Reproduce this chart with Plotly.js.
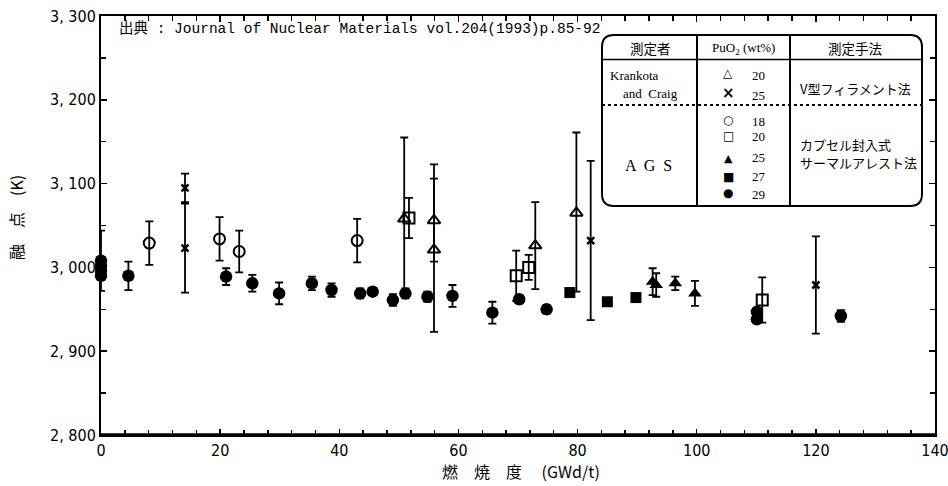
<!DOCTYPE html>
<html>
<head>
<meta charset="utf-8">
<script src="https://cdn.plot.ly/plotly-3.0.1.min.js"></script>
<style>html,body{margin:0;padding:0;background:#fff;}#chart{width:948px;height:486px;}</style>
</head>
<body>
<div id="chart"></div>
<script>
// ---- Data (burnup GWd/t, melting point K, error +, error -) ----
// Krankota and Craig, PuO2 20 wt% (open triangle)
const kc20_x = [50.9, 55.9, 55.9, 72.9, 79.8];
const kc20_y = [3058, 3056, 3021, 3026, 3065];
const kc20_ep = [97, 67, 85, 52, 96];
const kc20_em = [90, 49, 98, 52, 94];
// Krankota and Craig, PuO2 25 wt% (x)
const kc25_x = [14.1, 14.1, 82.2, 120.0];
const kc25_y = [3095, 3023, 3032, 2979];
const kc25_ep = [17, 53, 95, 58];
const kc25_em = [17, 53, 95, 58];
// AGS 18 wt% (open circle)
const a18_x = [8.1, 19.9, 23.2, 43.0];
const a18_y = [3029, 3034, 3019, 3032];
const a18_e = [26, 26, 25, 26];
// AGS 20 wt% (open square)
const a20_x = [51.7, 69.7, 71.8, 111.0];
const a20_y = [3059, 2990, 3000, 2961];
const a20_e = [24, 30, 15, 27];
// AGS 25 wt% (filled triangle)
const a25_x = [92.6, 93.2, 96.4, 99.7];
const a25_y = [2983, 2979, 2981, 2969];
const a25_e = [16, 14, 8, 15];
// AGS 27 wt% (filled square)
const a27_x = [78.7, 85.0, 89.8];
const a27_y = [2970, 2959, 2964];
const a27_e = [3, 3, 3];
// AGS 29 wt% (filled circle)
const a29_x = [0, 0, 0, 0, 4.6, 21.0, 25.4, 29.9, 35.4, 38.7, 43.5, 45.6, 49.0, 51.1, 54.8, 59.0, 65.7, 70.2, 74.8, 110.1, 110.1, 124.2];
const a29_y = [3008, 3002, 2996, 2990, 2990, 2989, 2981, 2969, 2981, 2973, 2969, 2971, 2961, 2969, 2965, 2966, 2946, 2962, 2950, 2947, 2938, 2942];
const a29_e = [36, 4, 4, 4, 17, 10, 10, 13, 8, 8, 6, 4, 7, 6, 6, 13, 13, 5, 5, 4, 4, 7];

// Axis ticks
const xTickVals = [0, 20, 40, 60, 80, 100, 120, 140];
const xTickText = ['0', '20', '40', '60', '80', '100', '120', '140'];
const yTickVals = [2800, 2900, 3000, 3100, 3200, 3300];
const yTickText = ['2, 800', '2, 900', '3, 000', '3, 100', '3, 200', '3, 300'];

// ---- Layout helpers (pixel -> paper) ----
const L = 101, R = 935, T = 16, B = 435;
const PX = x => (x - L) / (R - L);
const PY = y => (B - y) / (B - T);

function eb(ep, em) {
  return {type: 'data', symmetric: em === undefined, array: ep, arrayminus: em,
          color: '#000', thickness: 1.8, width: 4};
}
function tr(x, y, sym, size, ep, em, lw) {
  return {type: 'scatter', mode: 'markers', x: x, y: y, cliponaxis: false,
    error_y: eb(ep, em),
    marker: {symbol: sym, size: size, color: '#000', line: {color: '#000', width: lw}},
    showlegend: false, hoverinfo: 'x+y'};
}
const traces = [
  tr(kc20_x, kc20_y, 'triangle-up-open', 11, kc20_ep, kc20_em, 2),
  tr(kc25_x, kc25_y, 'x-thin-open', 7, kc25_ep, kc25_em, 2.5),
  tr(a18_x, a18_y, 'circle-open', 11, a18_e, undefined, 2),
  tr(a20_x, a20_y, 'square-open', 11, a20_e, undefined, 2),
  tr(a25_x, a25_y, 'triangle-up', 12, a25_e, undefined, 0),
  tr(a27_x, a27_y, 'square', 11, a27_e, undefined, 0),
  tr(a29_x, a29_y, 'circle', 12.5, a29_e, undefined, 0)
];

// Legend table geometry (pixels)
const tL = 602, tR = 922, tT = 35, tB = 206, rad = 12;
function rr() {
  const p = (x, y) => PX(x).toFixed(5) + ',' + PY(y).toFixed(5);
  return 'M' + p(tL + rad, tT) + ' L' + p(tR - rad, tT) + ' Q' + p(tR, tT) + ' ' + p(tR, tT + rad) +
    ' L' + p(tR, tB - rad) + ' Q' + p(tR, tB) + ' ' + p(tR - rad, tB) +
    ' L' + p(tL + rad, tB) + ' Q' + p(tL, tB) + ' ' + p(tL, tB - rad) +
    ' L' + p(tL, tT + rad) + ' Q' + p(tL, tT) + ' ' + p(tL + rad, tT) + ' Z';
}
const shapes = [
  {type: 'path', xref: 'paper', yref: 'paper', path: rr(), fillcolor: '#fff', line: {color: '#000', width: 2}, layer: 'above'},
  {type: 'line', xref: 'paper', yref: 'paper', x0: PX(697), x1: PX(697), y0: PY(tT), y1: PY(tB), line: {color: '#000', width: 2}},
  {type: 'line', xref: 'paper', yref: 'paper', x0: PX(790), x1: PX(790), y0: PY(tT), y1: PY(tB), line: {color: '#000', width: 2}},
  {type: 'line', xref: 'paper', yref: 'paper', x0: PX(tL), x1: PX(tR), y0: PY(59.5), y1: PY(59.5), line: {color: '#000', width: 1.5}},
  {type: 'line', xref: 'paper', yref: 'paper', x0: PX(tL), x1: PX(tR), y0: PY(105), y1: PY(105), line: {color: '#000', width: 2, dash: 'dot'}},
  {type: 'line', xref: 'paper', yref: 'paper', x0: 0, x1: 1, y0: 0, y1: 0, line: {color: '#000', width: 3.5}}
];

const tf = 'Liberation Serif, Noto Sans CJK JP, serif';
const cjk = 'Noto Sans CJK JP, sans-serif';
function ann(x, y, text, size, xa, font, extra) {
  const a = {xref: 'paper', yref: 'paper', x: PX(x), y: PY(y), text: text, showarrow: false,
    xanchor: xa || 'center', yanchor: 'middle', font: {family: font || tf, size: size || 13, color: '#000'}};
  return Object.assign(a, extra || {});
}
const bold = (s) => ({font: {family: 'DejaVu Sans', size: s, color: '#000', weight: 'bold'}});
const annotations = [
  ann(117, 29, '出典 : Journal of Nuclear Materials vol.204(1993)p.85-92', 14.5, 'left', 'Liberation Mono, Noto Sans CJK JP, monospace'),
  ann(650, 48, '測定者', 13.5, 'center', cjk),
  ann(743, 48, 'PuO<sub>2</sub> (wt%)', 13),
  ann(855, 48, '測定手法', 13.5, 'center', cjk),
  ann(608, 75, 'Krankota', 13, 'left'),
  ann(621, 93, 'and  Craig', 13, 'left'),
  ann(728, 73, '△', 12, 'center', 'DejaVu Sans', bold(12)),
  ann(750, 75, '20', 13, 'left'),
  ann(728, 93, '×', 15, 'center', 'DejaVu Sans', bold(15)),
  ann(750, 95, '25', 13, 'left'),
  ann(798, 88, 'V型フィラメント法', 13, 'left', cjk),
  ann(648, 165, 'A &nbsp;G &nbsp;S', 16),
  ann(728, 120, '○', 12, 'center', 'DejaVu Sans', bold(12)),
  ann(750, 121, '18', 13, 'left'),
  ann(728, 136, '□', 12, 'center', 'DejaVu Sans', bold(12)),
  ann(750, 136, '20', 13, 'left'),
  ann(728, 158, '▲', 11, 'center', 'DejaVu Sans'),
  ann(750, 157, '25', 13, 'left'),
  ann(728, 177, '■', 12, 'center', 'DejaVu Sans'),
  ann(750, 176, '27', 13, 'left'),
  ann(728, 193, '●', 12, 'center', 'DejaVu Sans'),
  ann(750, 194, '29', 13, 'left'),
  ann(798, 145, 'カプセル封入式', 13, 'left', cjk),
  ann(798, 163, 'サーマルアレスト法', 13, 'left', cjk),
  // axis titles
  ann(521, 471, '燃　焼　度　 (GWd/t)', 16, 'center', cjk),
  ann(16, 218, '融　点　(K)', 16, 'center', cjk, {textangle: -90})
];

const tickFont = {family: 'Liberation Sans Narrow, DejaVu Sans Condensed, Noto Sans CJK JP, sans-serif', size: 16, color: '#000'};
const layout = {
  width: 948, height: 486,
  margin: {l: L, r: 948 - R, t: T, b: 486 - B},
  paper_bgcolor: '#fff', plot_bgcolor: '#fff',
  showlegend: false,
  xaxis: {range: [0, 140], tickvals: xTickVals, ticktext: xTickText, ticks: 'inside', ticklen: 6, tickwidth: 1.5,
    tickcolor: '#000', showline: true, linecolor: '#000', linewidth: 2, mirror: 'ticks', showgrid: false, zeroline: false,
    minor: {dtick: 4, tick0: 0, ticks: 'inside', ticklen: 5, tickwidth: 1.5, tickcolor: '#000', showgrid: false},
    tickfont: tickFont, ticklabeloverflow: 'allow'},
  yaxis: {range: [2800, 3300], tickvals: yTickVals, ticktext: yTickText, ticks: 'inside', ticklen: 6, tickwidth: 1.5,
    tickcolor: '#000', showline: true, linecolor: '#000', linewidth: 2, mirror: 'ticks', showgrid: false, zeroline: false,
    minor: {dtick: 50, tick0: 2800, ticks: 'inside', ticklen: 5, tickwidth: 1.5, tickcolor: '#000', showgrid: false},
    tickfont: tickFont, ticklabeloverflow: 'allow'},
  shapes: shapes,
  annotations: annotations
};
Plotly.newPlot('chart', traces, layout, {displayModeBar: false, staticPlot: true});
</script>
</body>
</html>
